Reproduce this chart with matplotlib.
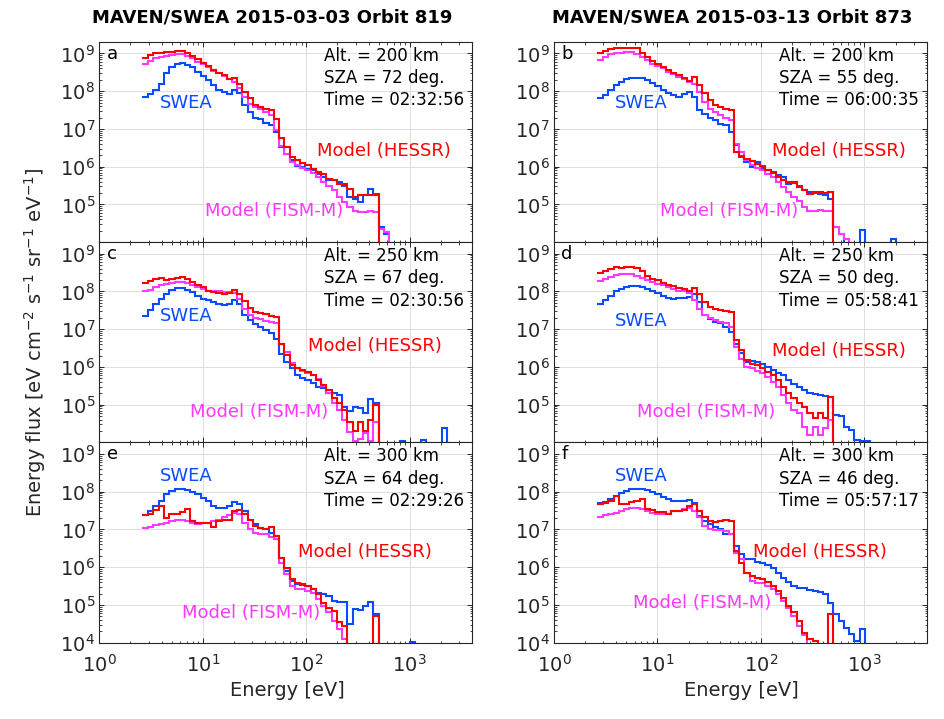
import numpy as np
import matplotlib
matplotlib.use("Agg")
import matplotlib.pyplot as plt
from matplotlib.ticker import LogLocator, NullFormatter, FixedLocator

LOW = 2.0  # log10 flux for bins below the plotted range

# lower edges of SWEA energy bins [eV]
energy_edges = [2.65, 2.98, 3.34, 3.76, 4.22, 4.74, 5.33, 5.99, 6.73, 7.56,
                8.49, 9.54, 10.7, 12.0, 13.5, 15.2, 17.1, 19.2, 21.6, 24.2,
                27.2, 30.6, 34.4, 38.6, 43.4, 48.8, 54.8, 61.5, 69.2, 77.7,
                87.3, 98.1, 110, 124, 139, 156, 176, 197, 222, 249,
                280, 315, 353, 397, 446, 501, 563, 633, 711, 799,
                898, 1009, 1133, 1273, 1430, 1607, 1806, 2029, 2280, 2561, 2878]

# log10 energy flux per bin
a_swea = [7.85, 7.92, 8.03, 8.20, 8.47, 8.63, 8.73, 8.75, 8.69, 8.63,
          8.51, 8.40, 8.29, 8.16, 8.03, 7.98, 7.92, 8.03, 7.94, 7.63,
          7.45, 7.30, 7.25, 7.16, 7.10, 6.92, 6.52, 6.34, 6.17, 6.01,
          5.99, 5.95, 5.90, 5.81, 5.73, 5.65, 5.64, 5.59, 5.50, 5.19,
          5.15, 5.06, 5.24, 5.42, 5.24, 4.40, 4.22, LOW]
a_hessr = [8.88, 8.95, 9.00, 9.02, 9.03, 9.04, 9.06, 9.05, 9.02, 8.93,
           8.84, 8.75, 8.66, 8.56, 8.47, 8.42, 8.31, 8.35, 8.20, 7.98,
           7.81, 7.63, 7.57, 7.54, 7.50, 7.25, 6.75, 6.51, 6.26, 6.17,
           6.10, 6.04, 5.95, 5.86, 5.80, 5.68, 5.64, 5.55, 5.53, 5.42,
           5.19, 5.24, 5.26, 5.24, 5.28, LOW]
a_fism = [8.73, 8.80, 8.87, 8.91, 8.94, 8.95, 8.97, 8.97, 8.93, 8.87,
          8.78, 8.71, 8.63, 8.54, 8.47, 8.40, 8.31, 8.25, 8.07, 7.85,
          7.67, 7.58, 7.52, 7.45, 7.36, 6.96, 6.56, 6.34, 6.12, 6.04,
          5.97, 5.92, 5.83, 5.73, 5.59, 5.48, 5.37, 5.19, 5.06, 4.93,
          4.84, 4.80, 4.80, 4.84, 4.81, 4.35, 4.27, LOW]

b_swea = [7.81, 7.89, 8.03, 8.16, 8.25, 8.31, 8.34, 8.35, 8.34, 8.29,
          8.22, 8.13, 8.04, 7.96, 7.89, 7.85, 7.92, 7.98, 7.85, 7.50,
          7.39, 7.30, 7.23, 7.14, 7.10, 6.92, 6.57, 6.26, 6.12, 5.99,
          6.12, 5.97, 5.92, 5.86, 5.77, 5.73, 5.53, 5.59, 5.50, 5.37,
          5.33, 5.30, 5.28, 5.24, 5.15, 4.40, 4.22, LOW, LOW, LOW,
          4.33, LOW, LOW, LOW, LOW, LOW, 4.08, LOW]
b_hessr = [9.00, 9.07, 9.12, 9.13, 9.14, 9.14, 9.14, 9.13, 9.02, 8.91,
           8.81, 8.73, 8.65, 8.56, 8.49, 8.42, 8.34, 8.27, 8.38, 8.16,
           7.94, 7.76, 7.63, 7.58, 7.54, 7.50, 6.40, 6.28, 6.21, 6.15,
           6.08, 6.01, 5.92, 5.83, 5.73, 5.64, 5.59, 5.57, 5.46, 5.37,
           5.28, 5.33, 5.33, 5.30, 5.33, LOW]
b_fism = [8.82, 8.91, 8.97, 9.00, 9.02, 9.03, 9.03, 8.98, 8.91, 8.82,
          8.73, 8.66, 8.60, 8.51, 8.45, 8.38, 8.31, 8.25, 8.20, 7.98,
          7.72, 7.54, 7.45, 7.36, 7.30, 7.23, 6.61, 6.39, 6.17, 6.04,
          5.97, 5.92, 5.81, 5.73, 5.59, 5.46, 5.33, 5.19, 5.09, 4.93,
          4.84, 4.84, 4.86, 4.84, 4.82, 4.40, 4.22, 4.09, LOW]

c_swea = [7.34, 7.50, 7.66, 7.81, 7.94, 8.04, 8.09, 8.09, 8.04, 7.98,
          7.89, 7.81, 7.76, 7.72, 7.66, 7.63, 7.67, 7.78, 7.67, 7.37,
          7.23, 7.13, 7.06, 6.99, 6.90, 6.75, 6.35, 6.14, 5.96, 5.78,
          5.70, 5.65, 5.58, 5.48, 5.43, 5.30, 5.30, 5.26, 4.95, 4.84,
          4.95, 4.91, 4.78, 5.14, 5.05, LOW, LOW, LOW, LOW, 4.03,
          LOW, LOW, LOW, 4.07, LOW, LOW, LOW, 4.38, LOW]
c_hessr = [8.22, 8.27, 8.33, 8.36, 8.31, 8.33, 8.36, 8.38, 8.33, 8.24,
           8.16, 8.11, 8.02, 7.98, 7.96, 7.94, 7.96, 8.04, 7.92, 7.75,
           7.55, 7.45, 7.43, 7.40, 7.35, 7.32, 6.62, 6.31, 6.05, 5.96,
           5.92, 5.87, 5.78, 5.65, 5.52, 5.39, 5.17, 5.04, 4.86, 4.55,
           4.30, 4.55, 4.30, 4.60, 5.00, LOW]
c_fism = [8.01, 8.04, 8.11, 8.16, 8.20, 8.22, 8.24, 8.24, 8.22, 8.16,
          8.11, 8.07, 8.02, 8.01, 8.01, 7.98, 7.98, 7.95, 7.80, 7.54,
          7.37, 7.30, 7.27, 7.22, 7.18, 7.15, 6.62, 6.40, 6.10, 5.96,
          5.90, 5.85, 5.78, 5.68, 5.50, 5.30, 5.05, 4.85, 4.60, 4.29,
          4.05, 4.08, 4.25, 4.05, 4.55, LOW]

d_swea = [7.67, 7.78, 7.89, 8.00, 8.07, 8.11, 8.14, 8.14, 8.11, 8.07,
          8.02, 7.95, 7.89, 7.83, 7.81, 7.83, 7.83, 7.85, 7.92, 7.72,
          7.37, 7.28, 7.19, 7.15, 7.06, 6.93, 6.62, 6.36, 6.12, 6.16,
          6.14, 6.07, 6.00, 5.92, 5.85, 5.78, 5.65, 5.56, 5.48, 5.39,
          5.30, 5.28, 5.26, 5.23, 5.21, 4.73, 4.69, 4.42, 4.33, 4.07,
          4.03, 4.05, LOW]
d_hessr = [8.49, 8.55, 8.60, 8.64, 8.62, 8.64, 8.64, 8.62, 8.53, 8.42,
           8.33, 8.29, 8.22, 8.18, 8.13, 8.09, 8.05, 8.02, 8.09, 7.94,
           7.72, 7.59, 7.54, 7.50, 7.48, 7.45, 6.71, 6.45, 6.18, 6.09,
           6.05, 5.96, 5.87, 5.78, 5.65, 5.48, 5.30, 5.19, 5.04, 4.95,
           4.77, 4.64, 4.77, 4.64, 5.21, LOW]
d_fism = [8.27, 8.33, 8.39, 8.43, 8.45, 8.46, 8.46, 8.42, 8.36, 8.31,
          8.24, 8.20, 8.16, 8.11, 8.07, 8.02, 8.01, 7.95, 7.76, 7.54,
          7.37, 7.30, 7.23, 7.19, 7.15, 7.06, 6.53, 6.22, 6.00, 5.96,
          5.90, 5.83, 5.74, 5.61, 5.48, 5.26, 5.04, 4.86, 4.77, 4.42,
          4.20, 4.42, 4.20, 4.38, 4.60, LOW]

e_swea = [7.37, 7.48, 7.62, 7.75, 7.93, 8.01, 8.06, 8.07, 8.04, 7.99,
          7.93, 7.84, 7.75, 7.62, 7.57, 7.57, 7.62, 7.72, 7.66, 7.48,
          7.26, 7.13, 7.04, 7.00, 6.91, 6.74, 6.25, 5.90, 5.63, 5.55,
          5.52, 5.50, 5.41, 5.31, 5.28, 5.24, 5.11, 5.08, 5.08, 4.49,
          4.89, 4.87, 4.97, 5.08, 4.75, LOW, LOW, LOW, LOW, LOW,
          LOW, 4.03, LOW]
e_hessr = [7.37, 7.40, 7.51, 7.62, 7.31, 7.40, 7.42, 7.46, 7.53, 7.22,
           7.18, 7.18, 7.18, 7.07, 7.22, 7.24, 7.26, 7.50, 7.51, 7.42,
           7.24, 7.10, 7.04, 7.01, 7.07, 6.82, 6.25, 5.99, 5.68, 5.57,
           5.55, 5.50, 5.41, 5.28, 5.06, 4.93, 4.85, 4.55, 4.45, LOW,
           LOW, LOW, LOW, LOW, 4.71, LOW]
e_fism = [7.04, 7.07, 7.11, 7.13, 7.18, 7.22, 7.26, 7.26, 7.22, 7.16,
          7.13, 7.16, 7.18, 7.22, 7.26, 7.33, 7.37, 7.44, 7.40, 7.18,
          7.00, 6.91, 6.87, 6.87, 6.80, 6.74, 6.12, 5.81, 5.50, 5.41,
          5.41, 5.37, 5.31, 5.15, 4.97, 4.80, 4.58, 4.36, 4.09, LOW]

f_swea = [7.69, 7.72, 7.81, 7.88, 7.97, 8.01, 8.06, 8.07, 8.07, 8.04,
          7.99, 7.93, 7.86, 7.81, 7.75, 7.75, 7.75, 7.79, 7.70, 7.35,
          7.22, 7.13, 7.07, 7.00, 6.87, 6.87, 6.56, 6.34, 6.21, 6.21,
          6.14, 6.10, 6.07, 5.99, 5.85, 5.72, 5.60, 5.50, 5.46, 5.44,
          5.39, 5.37, 5.34, 5.30, 5.06, 4.75, 4.58, 4.40, 4.22, 4.05,
          4.36, LOW]
f_hessr = [7.66, 7.70, 7.75, 7.88, 7.66, 7.68, 7.72, 7.75, 7.81, 7.53,
           7.51, 7.46, 7.46, 7.40, 7.48, 7.48, 7.51, 7.62, 7.66, 7.48,
           7.33, 7.22, 7.19, 7.22, 7.25, 7.22, 6.43, 6.12, 5.85, 5.77,
           5.72, 5.68, 5.61, 5.50, 5.37, 5.19, 4.97, 4.80, 4.58, 4.27,
           4.09, 4.05, LOW, LOW, 4.75, LOW]
f_fism = [7.33, 7.37, 7.40, 7.44, 7.48, 7.53, 7.57, 7.57, 7.53, 7.48,
          7.44, 7.42, 7.40, 7.42, 7.48, 7.50, 7.53, 7.57, 7.50, 7.33,
          7.10, 7.02, 6.98, 6.98, 6.95, 6.87, 6.38, 6.21, 5.85, 5.63,
          5.59, 5.57, 5.50, 5.41, 5.28, 5.11, 4.93, 4.71, 4.44, 4.20, LOW]

titles = ["MAVEN/SWEA 2015-03-03 Orbit 819", "MAVEN/SWEA 2015-03-13 Orbit 873"]
panel_letters = ["a", "b", "c", "d", "e", "f"]
altitudes = [200, 200, 250, 250, 300, 300]
szas = [72, 55, 67, 50, 64, 46]
times = ["02:32:56", "06:00:35", "02:30:56", "05:58:41", "02:29:26", "05:57:17"]
x_ticks = [1, 10, 100, 1000]
series = {
    "a": (a_swea, a_fism, a_hessr), "b": (b_swea, b_fism, b_hessr),
    "c": (c_swea, c_fism, c_hessr), "d": (d_swea, d_fism, d_hessr),
    "e": (e_swea, e_fism, e_hessr), "f": (f_swea, f_fism, f_hessr),
}

# label positions (axes fraction): SWEA, HESSR, FISM
label_pos = {
    "a": ((0.163, 0.695), (0.584, 0.455), (0.284, 0.155)),
    "b": ((0.164, 0.695), (0.584, 0.455), (0.284, 0.155)),
    "c": ((0.163, 0.630), (0.560, 0.480), (0.244, 0.153)),
    "d": ((0.164, 0.605), (0.584, 0.456), (0.222, 0.153)),
    "e": ((0.163, 0.834), (0.534, 0.453), (0.221, 0.148)),
    "f": ((0.164, 0.834), (0.533, 0.455), (0.212, 0.198)),
}

C_SWEA = "#0a4bff"
C_HESSR = "#ff0000"
C_FISM = "#ff38ff"
C_AX = "#262626"

plt.rcParams["font.family"] = ["DejaVu Sans"]
fig = plt.figure(figsize=(9.44, 7.19), dpi=100)

lefts = [0.1052, 0.5869]
width = 0.3948
h = 0.2785
bottoms = [0.6631, 0.3846, 0.1061]

for k, letter in enumerate(panel_letters):
    row, col = divmod(k, 2)
    ax = fig.add_axes([lefts[col], bottoms[row], width, h])
    ax.set_xscale("log")
    ax.set_yscale("log")
    sw, fi, he = series[letter]
    for vals, color in ((sw, C_SWEA), (fi, C_FISM), (he, C_HESSR)):
        v = np.array(vals, dtype=float)
        x = np.array(energy_edges[:len(v) + 1], dtype=float)
        y = np.append(10.0 ** v, 10.0 ** v[-1])
        ax.plot(x, y, drawstyle="steps-post", color=color, lw=1.5,
                solid_joinstyle="miter")
    ax.set_xlim(1, 4000)
    ax.set_ylim(1e4, 2e9)
    ax.xaxis.set_major_locator(FixedLocator(x_ticks))
    ax.xaxis.set_minor_locator(LogLocator(base=10, subs=np.arange(2, 10), numticks=100))
    ax.xaxis.set_minor_formatter(NullFormatter())
    if row == 2:
        ax.yaxis.set_major_locator(FixedLocator([1e4, 1e5, 1e6, 1e7, 1e8, 1e9]))
    else:
        ax.yaxis.set_major_locator(FixedLocator([1e5, 1e6, 1e7, 1e8, 1e9]))
    ax.yaxis.set_minor_locator(LogLocator(base=10, subs=np.arange(2, 10), numticks=100))
    ax.yaxis.set_minor_formatter(NullFormatter())
    ax.grid(True, which="major", color="#dedede", lw=0.7)
    ax.set_axisbelow(True)
    ax.tick_params(which="both", direction="in", top=True, right=True,
                   color=C_AX, labelcolor=C_AX, labelsize=14)
    ax.tick_params(which="major", length=3.5, width=0.7)
    ax.tick_params(which="minor", length=1.8, width=0.6)
    ax.tick_params(axis="y", pad=3)
    ax.tick_params(axis="x", pad=8)
    if row != 2:
        ax.tick_params(axis="x", labelbottom=False)
    for s in ax.spines.values():
        s.set_color(C_AX)
        s.set_linewidth(0.8)

    ax.text(0.02, 0.985, letter, transform=ax.transAxes, ha="left", va="top",
            fontsize=13, color="black")
    info = "Alt. = %d km\nSZA = %d deg.\nTime = %s" % (altitudes[k], szas[k], times[k])
    ax.text(0.603, 0.975, info, transform=ax.transAxes, ha="left", va="top",
            fontsize=12, color="black", linespacing=1.3)
    (sx, sy), (hx, hy), (fx, fy) = label_pos[letter]
    ax.text(sx, sy, "SWEA", transform=ax.transAxes, ha="left", va="center",
            fontsize=13, color=C_SWEA)
    ax.text(hx, hy, "Model (HESSR)", transform=ax.transAxes, ha="left", va="center",
            fontsize=13, color=C_HESSR)
    ax.text(fx, fy, "Model (FISM-M)", transform=ax.transAxes, ha="left", va="center",
            fontsize=13, color=C_FISM)

fig.text(0.288, 0.975, titles[0], ha="center", va="center", fontsize=13,
         fontweight="bold", color="black")
fig.text(0.776, 0.975, titles[1], ha="center", va="center", fontsize=13,
         fontweight="bold", color="black")
fig.text(0.037, 0.524,
         r"Energy flux [eV cm$^{-2}$ s$^{-1}$ sr$^{-1}$ eV$^{-1}$]",
         rotation=90, ha="center", va="center", fontsize=14, color=C_AX)
fig.text(0.304, 0.040, "Energy [eV]", ha="center", va="center", fontsize=14, color=C_AX)
fig.text(0.785, 0.040, "Energy [eV]", ha="center", va="center", fontsize=14, color=C_AX)

fig.savefig("out.png", dpi=100)
